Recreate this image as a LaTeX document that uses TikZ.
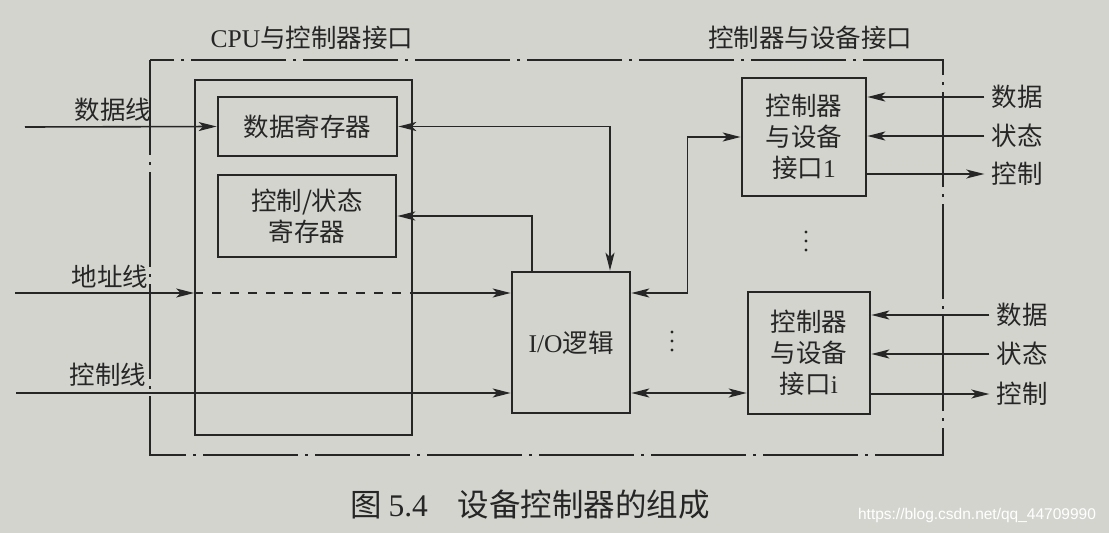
\documentclass[tikz,border=0pt]{standalone}
\usepackage{fontspec}
\setmainfont{Liberation Serif}
\setsansfont{Liberation Sans}
\newfontfamily\cjk{Noto Sans CJK SC}
\usepackage{tikz}
\usetikzlibrary{arrows.meta}
\definecolor{paper}{RGB}{212,212,207}
\definecolor{ink}{RGB}{38,38,38}
\tikzstyle{regbox}=[draw=ink, text=ink, line width=2.6pt, inner sep=0pt, align=center, font=\cjk\fontsize{25.5}{31}\selectfont]
\tikzstyle{cpuframe}=[draw=ink, line width=1.6pt, inner sep=0pt]
\tikzstyle{dashdotline}=[draw=ink, line width=1.6pt, dash pattern=on 95pt off 7pt on 3pt off 7pt]
\tikzstyle{arr}=[draw=ink, line width=1.6pt, -{Stealth[length=18pt,width=9pt,inset=4.5pt]}]
\tikzstyle{arrs}=[draw=ink, line width=1.6pt, {Stealth[length=18pt,width=9pt,inset=4.5pt]}-{Stealth[length=18pt,width=9pt,inset=4.5pt]}]
\tikzstyle{lbl}=[text=ink, inner sep=0pt, font=\cjk\fontsize{25.5}{31}\selectfont]

\begin{document}
\begin{tikzpicture}[x=1pt, y=-1pt]
          \fill[paper] (0,0) rectangle (1109,533);
          \useasboundingbox (0,0) rectangle (1109,533);
          % frames
          \draw[dashdotline] (150,60) rectangle (943,455);
          \node[cpuframe, minimum width=217pt, minimum height=355pt] (cpubox) at (303.5,257.5){};
          \node[lbl] (tcpu) at (312,38){{\rmfamily CPU}与控制器接口};
          \node[lbl] (tdev) at (810,38){控制器与设备接口};
          % registers and logic
          \node[regbox, minimum width=179pt, minimum height=59pt] (datareg) at (307.5,126.5){数据寄存器};
          \node[regbox, minimum width=178pt, minimum height=82pt] (ctrlreg) at (307,216){控制/状态\\寄存器};
          \node[regbox, minimum width=118pt, minimum height=141pt] (iolog) at (571,342.5){{\rmfamily I/O}逻辑};
          \node[regbox, minimum width=124pt, minimum height=118pt] (dev1) at (804,137){控制器\\与设备\\接口{\rmfamily 1}};
          \node[regbox, minimum width=122pt, minimum height=122pt] (devi) at (809,353){控制器\\与设备\\接口{\rmfamily i}};
          % bus side
          \node[lbl] (ldata) at (113,110){数据线};
          \node[lbl] (laddr) at (110,277){地址线};
          \node[lbl] (lctl) at (108,375){控制线};
          \coordinate (sdata) at (25,127);
          \coordinate (saddr) at (15,293);
          \coordinate (sctl) at (16,393);
          \draw[arr](sdata) -- (datareg.west);
          \draw[arr](saddr) -- (saddr -| cpubox.west);
          \draw[draw=ink, line width=1.6pt, dash pattern=on 9pt off 9pt](saddr -| cpubox.west) -- (saddr -| cpubox.east);
          \draw[arr](saddr -| cpubox.east) -- (saddr -| iolog.west);
          \draw[arr](sctl) -- (sctl -| iolog.west);
          \draw[arrs](datareg.east) -| ([xshift=39pt]iolog.north);
          \draw[arr]([xshift=-39pt]iolog.north) |- (ctrlreg.east);
          \draw[arrs](iolog.east |- saddr) -- ++(56,0) |- (dev1.west);
          \draw[arrs](iolog.east |- sctl) -- (sctl -| devi.west);
          % device side
          \node[lbl] (d1data) at (1017,97){数据};
          \node[lbl] (d1stat) at (1017,136){状态};
          \node[lbl] (d1ctl) at (1017,174){控制};
          \node[lbl] (dIdata) at (1022,315){数据};
          \node[lbl] (dIstat) at (1022,354){状态};
          \node[lbl] (dIctl) at (1022,394){控制};
          \draw[arr]([xshift=-7pt]d1data.west) -- (d1data.west -| dev1.east);
          \draw[arr]([xshift=-7pt]d1stat.west) -- (d1stat.west -| dev1.east);
          \draw[arr](dev1.east |- d1ctl.west) -- ([xshift=-7pt]d1ctl.west);
          \draw[arr]([xshift=-7pt]dIdata.west) -- (dIdata.west -| devi.east);
          \draw[arr]([xshift=-7pt]dIstat.west) -- (dIstat.west -| devi.east);
          \draw[arr](devi.east |- dIctl.west) -- ([xshift=-7pt]dIctl.west);
          \foreach \y in {232,241,250} \fill[ink] (806,\y) circle (1.7pt);
          \foreach \y in {332,341,350} \fill[ink] (672,\y) circle (1.7pt);
          % caption
          \node[lbl, font=\cjk\fontsize{31.5}{36}\selectfont] (cap) at (530,505){图 {\rmfamily 5.4}\hspace{30pt}设备控制器的组成};
          \node[text=white, inner sep=0pt, font=\sffamily\fontsize{15.5}{18}\selectfont] (wm) at (977,515){https://blog.csdn.net/qq\_44709990};
        \end{tikzpicture}
\end{document}
